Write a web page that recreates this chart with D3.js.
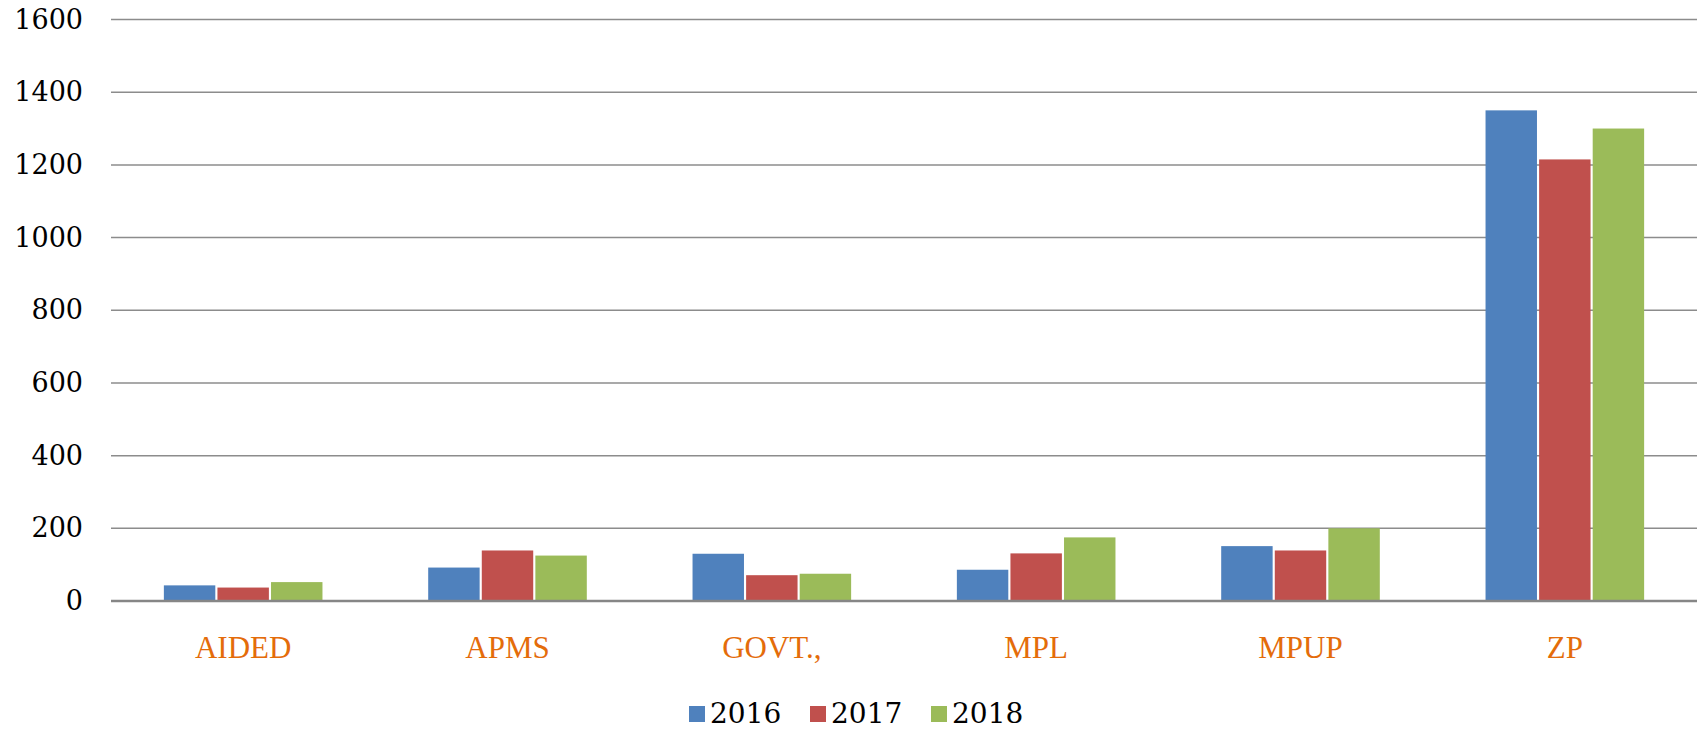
<!DOCTYPE html>
<html>
<head>
<meta charset="utf-8">
<script src="https://cdn.jsdelivr.net/npm/d3@7"></script>
<style>
  body { margin: 0; background: #fff; }
  svg { display: block; }
</style>
</head>
<body>
<script>
// Data
const categories = ["AIDED", "APMS", "GOVT.,", "MPL", "MPUP", "ZP"];
const years = ["2016", "2017", "2018"];
const values2016 = [43, 92, 130, 86, 151, 1350];
const values2017 = [37, 139, 71, 131, 139, 1215];
const values2018 = [52, 125, 75, 175, 200, 1300];
const yTicks = [0, 200, 400, 600, 800, 1000, 1200, 1400, 1600];
const colors = ["#4F81BD", "#C0504D", "#9BBB59"];

const seriesValues = [values2016, values2017, values2018];
const data = categories.map((c, i) => ({
    category: c,
    values: years.map((y, j) => ({ year: y, value: seriesValues[j][i] }))
}));

// Dimensions
const width = 1699;
const height = 731;
const margin = { top: 19.5, right: 2, bottom: 130, left: 111 };

const svg = d3.select("body")
    .append("svg")
    .attr("width", width)
    .attr("height", height);

// Scales
const x0 = d3.scaleBand()
    .domain(categories)
    .range([margin.left, width - margin.right])
    .paddingInner(0.4)
    .paddingOuter(0.2);

const x1 = d3.scaleBand()
    .domain(years)
    .range([0, x0.bandwidth()])
    .paddingInner(0.04);

const y = d3.scaleLinear()
    .domain([0, 1600])
    .range([height - margin.bottom, margin.top]);

// Gridlines
svg.append("g")
    .selectAll("line")
    .data(yTicks.filter(d => d > 0))
    .enter().append("line")
    .attr("x1", margin.left)
    .attr("x2", width - margin.right)
    .attr("y1", d => y(d))
    .attr("y2", d => y(d))
    .attr("stroke", "#8c8c8c")
    .attr("stroke-width", 1.5);

// Y axis labels
const yAxis = d3.axisLeft(y)
    .tickValues(yTicks)
    .tickFormat(d3.format("d"))
    .tickSize(0)
    .tickPadding(0);
svg.append("g")
    .attr("transform", `translate(83,0)`)
    .call(yAxis)
    .call(g => g.select(".domain").remove())
    .call(g => g.selectAll("text")
        .attr("font-family", "'DejaVu Serif', serif")
        .attr("font-size", 27)
        .attr("fill", "#000"));

// Bars
const groups = svg.append("g")
    .selectAll("g")
    .data(data)
    .enter().append("g")
    .attr("transform", d => `translate(${x0(d.category)},0)`);

groups.selectAll("rect")
    .data(d => d.values)
    .enter().append("rect")
    .attr("x", d => x1(d.year))
    .attr("y", d => y(d.value))
    .attr("width", x1.bandwidth())
    .attr("height", d => y(0) - y(d.value))
    .attr("fill", (d, i) => colors[i]);

// Baseline
svg.append("line")
    .attr("x1", margin.left)
    .attr("x2", width - margin.right)
    .attr("y1", y(0))
    .attr("y2", y(0))
    .attr("stroke", "#868686")
    .attr("stroke-width", 2.5);

// Category labels
svg.append("g")
    .selectAll("text")
    .data(categories)
    .enter().append("text")
    .attr("x", d => x0(d) + x0.bandwidth() / 2)
    .attr("y", 658)
    .attr("text-anchor", "middle")
    .attr("font-family", "'Liberation Serif', serif")
    .attr("font-size", 31)
    .attr("fill", "#E46C0A")
    .text(d => d);

// Legend
const legend = svg.append("g")
    .selectAll("g")
    .data(years)
    .enter().append("g")
    .attr("transform", (d, i) => `translate(${689 + i * 121},0)`);

legend.append("rect")
    .attr("x", 0)
    .attr("y", 706)
    .attr("width", 16)
    .attr("height", 16)
    .attr("fill", (d, i) => colors[i]);

legend.append("text")
    .attr("x", 21)
    .attr("y", 723)
    .attr("font-family", "'DejaVu Serif', serif")
    .attr("font-size", 28)
    .attr("fill", "#000")
    .text(d => d);
</script>
</body>
</html>
